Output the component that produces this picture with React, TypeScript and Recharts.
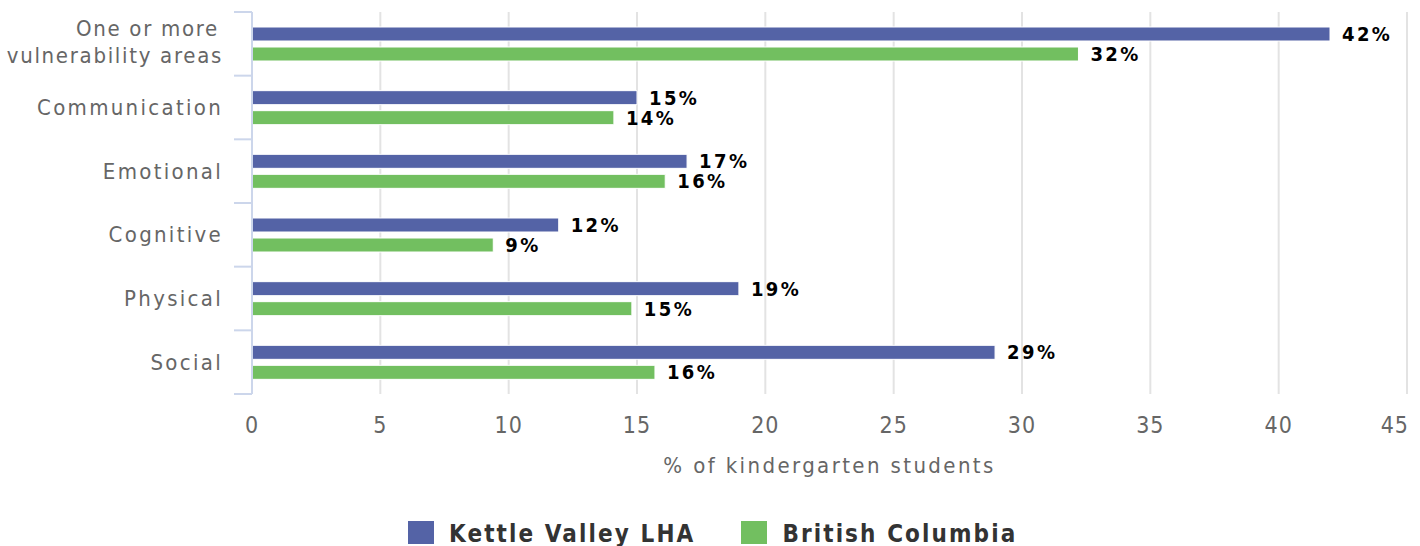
import React from 'react';
import { BarChart, Bar, XAxis, YAxis, CartesianGrid, LabelList } from 'recharts';

const categories = [
  'One or more vulnerability areas',
  'Communication',
  'Emotional',
  'Cognitive',
  'Physical',
  'Social',
];
const kettleValley = [42.0, 15.0, 16.95, 11.95, 18.97, 28.95];
const britishColumbia = [32.2, 14.1, 16.1, 9.4, 14.8, 15.7];
const seriesNames = ['Kettle Valley LHA', 'British Columbia'];
const xTicks = [0, 5, 10, 15, 20, 25, 30, 35, 40, 45];
const axisTitle = '% of kindergarten students';

const data = categories.map((c, i) => ({
  category: c,
  kv: kettleValley[i],
  bc: britishColumbia[i],
}));

const BLUE = '#5463a6';
const GREEN = '#72bf60';
const AXIS_COLOR = '#ccd6eb';
const GRID_COLOR = '#e3e3e3';
const FONT = '"DejaVu Sans Condensed", "DejaVu Sans", sans-serif';

const W = 1420;
const H = 546;
const M_TOP = 12;
const M_RIGHT = 13;
const Y_W = 252;
const X_H = 70;
const M_BOTTOM = 82;
const PLOT_TOP = M_TOP;
const PLOT_BOTTOM = H - M_BOTTOM - X_H;

function wrap(s: string): string[] {
  if (s.length <= 18) return [s];
  const words = s.split(' ');
  const lines: string[] = [];
  let cur = '';
  for (const w of words) {
    if (cur && (cur + ' ' + w).length > 19) {
      lines.push(cur);
      cur = w;
    } else {
      cur = cur ? cur + ' ' + w : w;
    }
  }
  if (cur) lines.push(cur);
  return lines;
}

const YTick = (props: any) => {
  const { x, y, payload, index } = props;
  const band = (PLOT_BOTTOM - PLOT_TOP) / categories.length;
  const lines = wrap(String(payload.value));
  const lh = 27;
  return (
    <g>
      <line x1={x - 18} x2={x} y1={y - band / 2} y2={y - band / 2} stroke={AXIS_COLOR} strokeWidth={2} />
      {index === categories.length - 1 && (
        <line x1={x - 18} x2={x} y1={y + band / 2} y2={y + band / 2} stroke={AXIS_COLOR} strokeWidth={2} />
      )}
      <text
        textAnchor="end"
        fontFamily={FONT}
        fontSize={22}
        fill="#666"
        style={{ letterSpacing: lines.length > 1 ? 1.7 : 2.3 }}
      >
        {lines.map((l, i) => (
          <tspan
            key={i}
            x={x - (lines.length > 1 && i === 0 ? 33 : 29)}
            y={y + 7.5 + (i - (lines.length - 1) / 2) * lh - (lines.length > 1 ? 2 : 0)}
          >
            {l}
          </tspan>
        ))}
      </text>
    </g>
  );
};

const XTick = (props: any) => {
  const { x, y, payload, index } = props;
  const last = index === xTicks.length - 1;
  return (
    <text
      x={last ? x + 2 : x}
      y={y + 39}
      textAnchor={last ? 'end' : 'middle'}
      fontFamily={FONT}
      fontSize={23}
      fill="#666"
      style={{ letterSpacing: 1 }}
    >
      {payload.value}
    </text>
  );
};

const fmt = (v: any) => `${Math.round(Number(v))}%`;

const labelStyle = { fontFamily: FONT, fontSize: 20, fontWeight: 'bold', fill: '#000', letterSpacing: 2.4 } as any;

export default function App() {
  return (
    <div style={{ position: 'absolute', left: 0, top: 0, width: W, height: H, background: '#fff' }}>
      <BarChart
        width={W}
        height={H}
        data={data}
        layout="vertical"
        margin={{ top: M_TOP, right: M_RIGHT, left: 0, bottom: M_BOTTOM }}
        barSize={14}
        barGap={6}
      >
        <CartesianGrid horizontal={false} vertical={true} stroke={GRID_COLOR} strokeWidth={2} />
        <XAxis
          type="number"
          domain={[0, 45]}
          ticks={xTicks}
          axisLine={false}
          tickLine={false}
          tickSize={0}
          tickMargin={0}
          height={X_H}
          tick={<XTick />}
          interval={0}
          label={{
            content: (p: any) => {
              const vb = p.viewBox || {};
              return (
                <text
                  x={(vb.x ?? 0) + (vb.width ?? 0) / 2}
                  y={(vb.y ?? 0) + 79}
                  textAnchor="middle"
                  fontFamily={FONT}
                  fontSize={22}
                  fill="#666"
                  style={{ letterSpacing: 2.4 }}
                >
                  {axisTitle}
                </text>
              );
            },
          }}
        />
        <YAxis
          type="category"
          dataKey="category"
          width={Y_W}
          axisLine={{ stroke: AXIS_COLOR, strokeWidth: 2 }}
          tickLine={false}
          tickSize={0}
          tickMargin={0}
          tick={<YTick />}
          interval={0}
        />
        <Bar dataKey="kv" name={seriesNames[0]} fill={BLUE} stroke="#fff" strokeWidth={1} isAnimationActive={false}>
          <LabelList dataKey="kv" position="right" offset={12} formatter={fmt} style={labelStyle} />
        </Bar>
        <Bar dataKey="bc" name={seriesNames[1]} fill={GREEN} stroke="#fff" strokeWidth={1} isAnimationActive={false}>
          <LabelList dataKey="bc" position="right" offset={12} formatter={fmt} style={labelStyle} />
        </Bar>
      </BarChart>
      <div
        style={{
          position: 'absolute',
          top: 520,
          left: 408,
          display: 'flex',
          alignItems: 'center',
          fontFamily: FONT,
          fontWeight: 'bold',
          fontSize: 24,
          lineHeight: '24px',
          letterSpacing: 2.1,
          color: '#333',
          whiteSpace: 'nowrap',
        }}
      >
        {seriesNames.map((n, i) => (
          <div key={n} style={{ display: 'flex', alignItems: 'center', marginRight: i === 0 ? 46 : 0 }}>
            <span style={{ display: 'inline-block', width: 26, height: 23, background: i === 0 ? BLUE : GREEN, marginRight: 15 }} />
            <span style={{ position: 'relative', top: 2 }}>{n}</span>
          </div>
        ))}
      </div>
    </div>
  );
}
